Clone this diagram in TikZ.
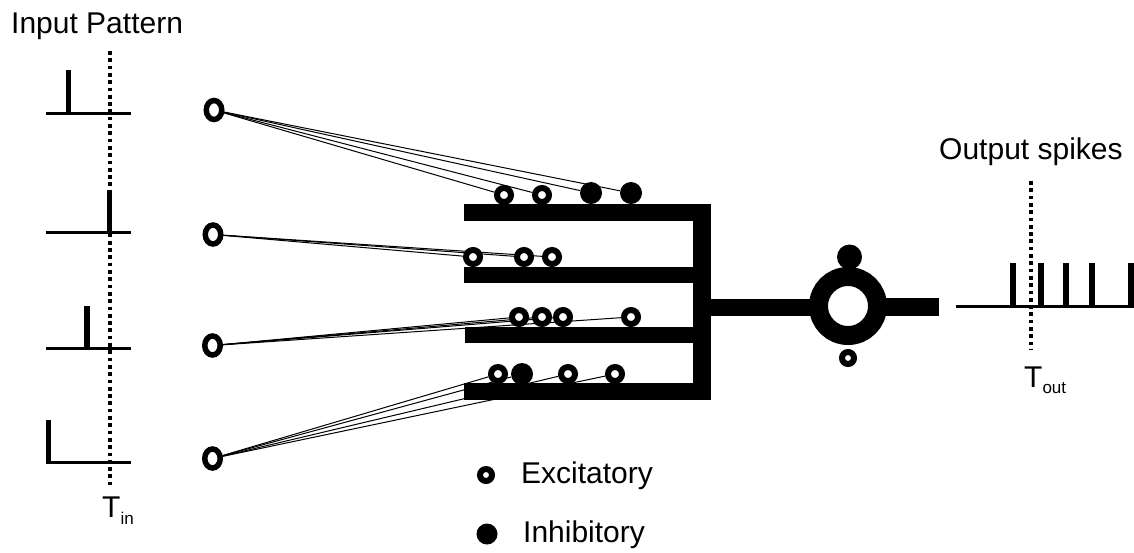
\documentclass[tikz,border=0pt]{standalone}
\usepackage{fontspec}
\setmainfont{Liberation Sans}
\usetikzlibrary{shapes.geometric}
\pgfdeclarelayer{wires}
\pgfdeclarelayer{dendrites}
\pgfsetlayers{wires,dendrites,main}
\begin{document}
\begin{tikzpicture}[x=1pt,y=-1pt,
  lbl/.style={font=\fontsize{30}{35}\selectfont, inner sep=0pt},
  exc/.style={circle, draw, line width=6pt, fill=white, minimum size=14pt, inner sep=0pt},
  inh/.style={circle, fill=black, minimum size=22pt, inner sep=0pt},
  inp/.style={ellipse, draw, line width=5.5pt, fill=white, minimum width=15.5pt, minimum height=19pt, inner sep=0pt},
  wire/.style={line width=1pt},
  axis/.style={line width=3pt},
  spike/.style={line width=5.5pt},
  tmark/.style={line width=4pt, dash pattern=on 3.7pt off 3.6pt},
]
\useasboundingbox (0,0) rectangle (1134,552);

% ---- input spike trains ----
\node[lbl, anchor=base west] (inlabel) at (11,33) {Input Pattern};
\draw[axis] (46,113) -- (131,113);
\draw[spike] (68.5,113) -- (68.5,70);
\draw[axis] (46,232) -- (131,232);
\draw[spike] (109.5,232) -- (109.5,190);
\draw[axis] (46,348) -- (131,348);
\draw[spike] (87,348) -- (87,306);
\draw[axis] (46,462) -- (131,462);
\draw[spike] (48.5,463.5) -- (48.5,420);
\draw[tmark] (110,51) -- (110,487);
\node[lbl, anchor=base west] (tin) at (102,517) {T\raisebox{-7pt}{\fontsize{17}{17}\selectfont in}};

% ---- input neurons ----
\node[inp] (in1) at (214,110) {};
\node[inp] (in2) at (213,234.5) {};
\node[inp] (in3) at (212.5,345.5) {};
\node[inp] (in4) at (212.5,458.5) {};

% ---- synapses on the dendrites ----
\node[exc] (a1) at (504,195) {};
\node[exc] (a2) at (542,195) {};
\node[inh] (a3) at (591,193) {};
\node[inh] (a4) at (631,193) {};

\node[exc] (b1) at (473,257) {};
\node[exc] (b2) at (524,257) {};
\node[exc] (b3) at (552,257) {};

\node[exc] (c1) at (519,317) {};
\node[exc] (c2) at (542,317) {};
\node[exc] (c3) at (563,317) {};
\node[exc] (c4) at (631,317) {};

\node[exc] (d1) at (498,374) {};
\node[inh] (d2) at (522,374) {};
\node[exc] (d3) at (568,374) {};
\node[exc] (d4) at (615,374) {};

% ---- soma ----
\node[circle, draw, line width=19pt, fill=white, minimum size=59pt, inner sep=0pt] (soma) at (848,306) {};
\node[inh, minimum size=25pt] (sinh) at (849.5,257) {};
\node[exc, minimum size=12pt] (sexc) at (848,358) {};

% ---- axons from the inputs ----
\begin{pgfonlayer}{wires}
  \foreach \s in {a1,a2,a3,a4} \draw[wire] (in1) -- (\s);
  \foreach \s in {b1,b2,b3} \draw[wire] (in2) -- (\s);
  \foreach \s in {c1,c2,c3,c4} \draw[wire] (in3) -- (\s);
  \foreach \s in {d1,d2,d3,d4} \draw[wire] (in4) -- (\s);
\end{pgfonlayer}

% ---- dendritic tree and output axon ----
\begin{pgfonlayer}{dendrites}
  \fill (464,204) rectangle (711,221);
  \fill (464,267) rectangle (711,283);
  \fill (465,327) rectangle (711,343);
  \fill (464,383) rectangle (711,400);
  \fill (693,204) rectangle (711,400);
  \fill (711,299) rectangle (830,316);
  \fill (868,298) rectangle (939,316);
\end{pgfonlayer}

% ---- output spike train ----
\node[lbl, anchor=base west] (outlabel) at (939,159) {Output spikes};
\draw[axis] (956,306) -- (1134,306);
\foreach \x in {1013,1041,1066,1092,1131} \draw[spike] (\x,306) -- (\x,263);
\draw[tmark] (1031,181) -- (1031,349);
\node[lbl, anchor=base west] (tout) at (1024,387) {T\raisebox{-6pt}{\fontsize{17}{17}\selectfont out}};

% ---- legend ----
\node[exc, minimum size=12pt] (lexc) at (486,475) {};
\node[lbl, anchor=base west] (lexct) at (521,483) {Excitatory};
\node[inh, minimum size=21pt] (linh) at (487,534) {};
\node[lbl, anchor=base west] (linht) at (523,542) {Inhibitory};
\end{tikzpicture}
\end{document}
